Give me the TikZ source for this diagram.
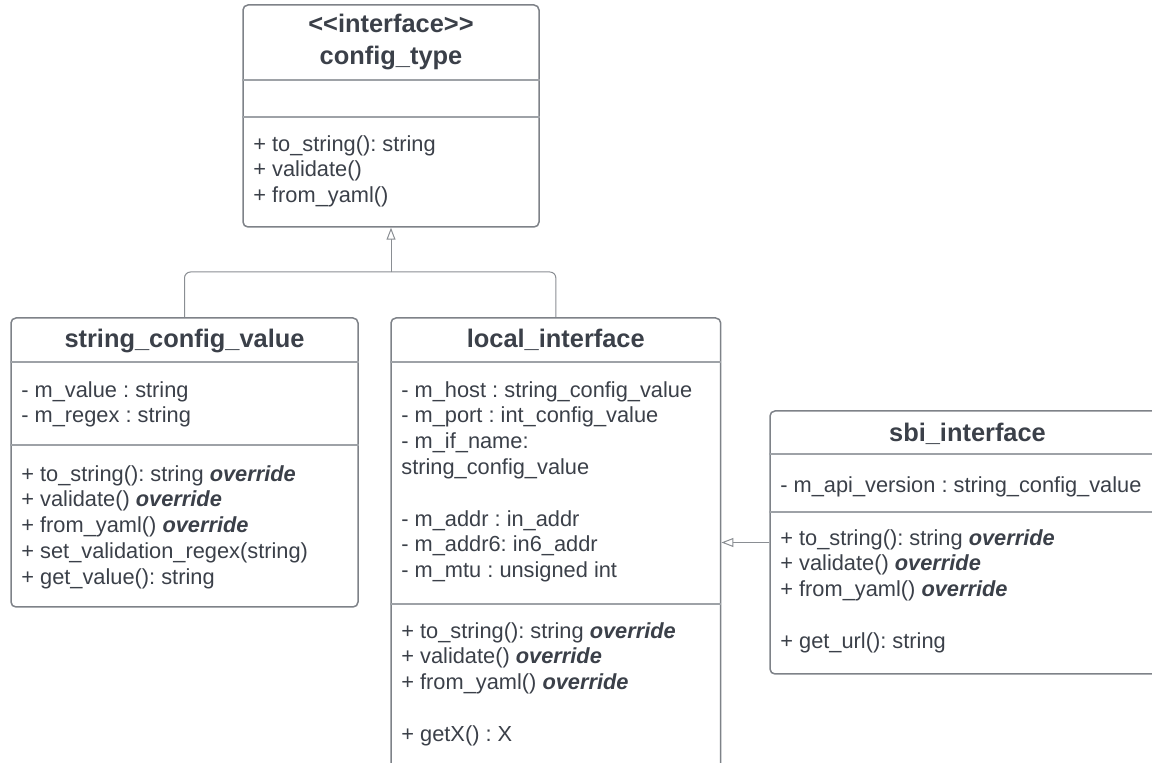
\documentclass[tikz,border=0pt]{standalone}
\usepackage{fontspec}
\usepackage{xcolor}
\usepackage{tikz}
\usetikzlibrary{arrows.meta,positioning,fit}

\newfontfamily\umlsans{Liberation Sans}
\definecolor{umltext}{HTML}{3B4049}
\definecolor{umlborder}{HTML}{7E8288}
\definecolor{umlsep}{HTML}{9EA2A7}
\definecolor{umlarrow}{HTML}{8A8E93}

\tikzset{
  classbox/.style={draw=umlborder, line width=0.75pt, rounded corners=2.5pt, inner sep=0pt, fill=white},
  classname/.style={font=\umlsans\bfseries\fontsize{12.7}{16}\selectfont, text=umltext, align=center, inner sep=0pt},
  members/.style={font=\umlsans\fontsize{10.9}{12.9}\selectfont, text=umltext, align=left, anchor=north west, inner sep=0pt, execute at begin node=\strut},
  sepline/.style={draw=umlsep, line width=0.6pt},
  genline/.style={draw=umlarrow, line width=0.5pt, rounded corners=3pt},
  gentip/.style={-{Triangle[open, length=6pt, width=4.5pt, fill=white]}},
}
\newcommand{\ovr}{\textbf{\textit{override}}}
\frenchspacing

\begin{document}
\begin{tikzpicture}[x=0.5pt, y=-0.5pt]
    % Page frame, the two lower boxes run past it
    \useasboundingbox (0,0) rectangle (1152,763);
    \clip (0,0) rectangle (1152,763);
    \def\gap{12.9pt}

    % Draw the class boxes
    \node[classbox, fit={(243,5) (539,227)}] (cfg) {};
    \node[classbox, fit={(11,318) (358,607)}] (strcfg) {};
    \node[classbox, fit={(391,318) (720.7,800)}] (locif) {};
    \node[classbox, fit={(770,411) (1165,674)}] (sbi) {};

    % Compartment lines
    \draw[sepline] (cfg.west |- 0,80) -- (cfg.east |- 0,80);
    \draw[sepline] (cfg.west |- 0,117) -- (cfg.east |- 0,117);
    \draw[sepline] (strcfg.west |- 0,362) -- (strcfg.east |- 0,362);
    \draw[sepline] (strcfg.west |- 0,445) -- (strcfg.east |- 0,445);
    \draw[sepline] (locif.west |- 0,362) -- (locif.east |- 0,362);
    \draw[sepline] (locif.west |- 0,604) -- (locif.east |- 0,604);
    \draw[sepline] (sbi.west |- 0,454) -- (sbi.east |- 0,454);
    \draw[sepline] (sbi.west |- 0,512) -- (sbi.east |- 0,512);

    % Class names
    \node[classname] (cfgname) at (391,42) {{<}{<}interface{>}{>}\\config\_type};
    \node[classname] (strcfgname) at (184.5,341) {string\_config\_value};
    \node[classname] (locifname) at (555.8,340) {local\_interface};
    \node[classname] (sbiname) at (967.5,434) {sbi\_interface};

    % Attributes and operations
    \node[members] (cfgops) at (253,135) {+ to\_string(): string\\+ validate()\\+ from\_yaml()};
    \node[members] (strcfgattr) at (21,381) {- m\_value : string\\- m\_regex : string};
    \node[members] (strcfgops) at (21,465) {+ to\_string(): string \ovr\\+ validate() \ovr\\+ from\_yaml() \ovr\\+ set\_validation\_regex(string)\\+ get\_value(): string};
    \node[members] (locifattr) at (401,381) {- m\_host : string\_config\_value\\- m\_port : int\_config\_value\\- m\_if\_name:\\string\_config\_value\\[\gap]- m\_addr : in\_addr\\- m\_addr6: in6\_addr\\- m\_mtu : unsigned int};
    \node[members] (locifops) at (401,622) {+ to\_string(): string \ovr\\+ validate() \ovr\\+ from\_yaml() \ovr\\[\gap]+ getX() : X};
    \node[members] (sbiattr) at (780,474) {- m\_api\_version : string\_config\_value};
    \node[members] (sbiops) at (780,529) {+ to\_string(): string \ovr\\+ validate() \ovr\\+ from\_yaml() \ovr\\[\gap]+ get\_url(): string};

    % Generalisation arrows
    \coordinate (fork) at (391,272);
    \draw[genline] (strcfg.north) |- (fork);
    \draw[genline] (locif.north) |- (fork);
    \draw[genline, gentip] (fork) -- (cfg.south);
    \draw[genline, gentip] (sbi.west) -- (sbi.west -| locif.east);
\end{tikzpicture}
\end{document}
